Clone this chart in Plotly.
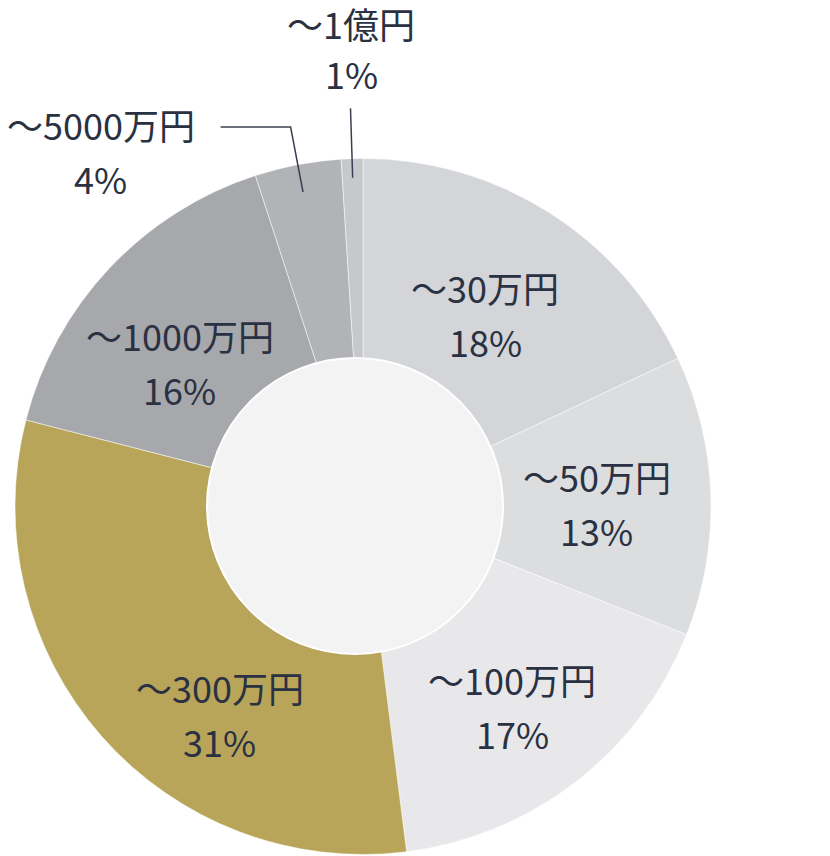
import math
import plotly.graph_objects as go

# data
labels = ["～30万円", "～50万円", "～100万円", "～300万円", "～1000万円", "～5000万円", "～1億円"]
shares = [18, 13, 17, 31, 16, 4, 1]
colors = ["#d4d5d8", "#dcdddf", "#e8e8ea", "#b8a55a", "#a6a8ab", "#b1b3b6", "#c6c8cb"]

# page geometry (px); the page body adds an 8px offset, so pull everything back by it
W, H = 830, 856
OFF = 8
CX, CY, R = 363 - OFF, 506.5 - OFF, 348
# centre disc sits a little left of the ring centre in the reference
DISC_CX, DISC_CY, DISC_R = 355 - OFF, 506 - OFF, 148
TEXT = "#2a3142"
LEADER = "#3a4050"
FONT = "Noto Sans CJK JP"
FS = 36

# label placement: (angle nudge in deg, radius px) for inside labels, None -> outside with leader
label_style = [(0, 228), (1, 234), (1, 249), (-14, 252), (-5, 233), None, None]


def px(x, y):
    return x / W, 1 - y / H


def polar(angle_deg, r):
    a = math.radians(angle_deg)
    return CX + r * math.sin(a), CY - r * math.cos(a)


total = sum(shares)
mids = []
acc = 0
for v in shares:
    mids.append((acc + v / 2) / total * 360)
    acc += v

fig = go.Figure(go.Pie(
    labels=labels,
    values=shares,
    sort=False,
    direction="clockwise",
    rotation=0,
    hole=0.3,
    marker=dict(colors=colors, line=dict(color="white", width=0.5)),
    textinfo="none",
    hoverinfo="label+percent",
    showlegend=False,
    domain=dict(x=[(CX - R) / W, (CX + R) / W], y=[1 - (CY + R) / H, 1 - (CY - R) / H]),
))

annotations = []
shapes = []


def add_label(x, y, name, pct, top_gap=27):
    for text, dy in ((name, -top_gap), (pct, 27)):
        gx, gy = px(x, y + dy)
        annotations.append(dict(x=gx, y=gy, xref="paper", yref="paper", text=text, showarrow=False,
                                xanchor="center", yanchor="middle",
                                font=dict(size=FS, color=TEXT, family=FONT)))


for i, (name, v) in enumerate(zip(labels, shares)):
    pct = f"{round(v / total * 100)}%"
    st = label_style[i]
    if st is not None:
        x, y = polar(mids[i] + st[0], st[1])
        add_label(x, y, name, pct)

# ～5000万円: radial leader then horizontal elbow
i = 5
x0, y0 = polar(mids[i], 0.92 * R)
x1, y1 = polar(mids[i], 1.11 * R)
x2 = x1 - 70
sx0, sy0 = px(x0, y0)
sx1, sy1 = px(x1, y1)
sx2, _ = px(x2, y1)
shapes.append(dict(type="path", xref="paper", yref="paper",
                   path=f"M {sx0} {sy0} L {sx1} {sy1} L {sx2} {sy1}",
                   line=dict(color=LEADER, width=1.5)))
add_label(x2 - 120, y1 + 24, labels[i], f"{shares[i]}%")

# ～1億円: radial leader straight up
i = 6
x0, y0 = polar(mids[i], 0.945 * R)
x1, y1 = polar(mids[i], 1.145 * R)
sx0, sy0 = px(x0, y0)
sx1, sy1 = px(x1, y1)
shapes.append(dict(type="line", xref="paper", yref="paper", x0=sx0, y0=sy0, x1=sx1, y1=sy1,
                   line=dict(color=LEADER, width=1.5)))
add_label(x1 + 1, y1 - 62, labels[i], f"{shares[i]}%", top_gap=23)

# filled centre
hx0, hy0 = px(DISC_CX - DISC_R, DISC_CY + DISC_R)
hx1, hy1 = px(DISC_CX + DISC_R, DISC_CY - DISC_R)
shapes.append(dict(type="circle", xref="paper", yref="paper", x0=hx0, y0=hy0, x1=hx1, y1=hy1,
                   fillcolor="#f3f3f3", line=dict(color="white", width=2), layer="above"))

fig.update_layout(
    width=W,
    height=H,
    margin=dict(l=0, r=0, t=0, b=0),
    paper_bgcolor="white",
    plot_bgcolor="white",
    annotations=annotations,
    shapes=shapes,
    font=dict(family=FONT),
)

fig.write_html("out.html")
